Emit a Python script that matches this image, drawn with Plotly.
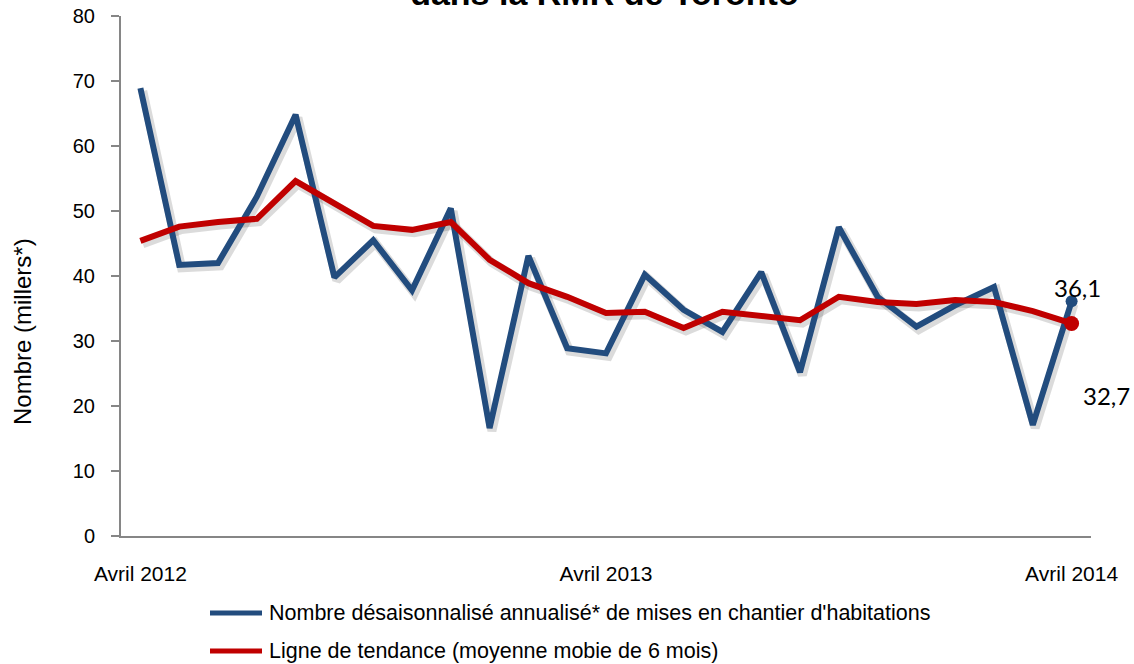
import plotly.graph_objects as go

# ---- data ----
months = ["avr. 2012", "mai 2012", "juin 2012", "juil. 2012", "août 2012", "sept. 2012",
          "oct. 2012", "nov. 2012", "déc. 2012", "janv. 2013", "févr. 2013", "mars 2013",
          "avr. 2013", "mai 2013", "juin 2013", "juil. 2013", "août 2013", "sept. 2013",
          "oct. 2013", "nov. 2013", "déc. 2013", "janv. 2014", "févr. 2014", "mars 2014",
          "avr. 2014"]
starts = [68.9, 41.7, 42.0, 52.2, 64.8, 39.8, 45.5, 37.8, 50.4, 16.6, 43.1, 28.9,
          28.1, 40.2, 34.8, 31.4, 40.6, 25.2, 47.5, 36.8, 32.2, 35.5, 38.3, 17.1, 36.1]
trend = [45.4, 47.6, 48.3, 48.8, 54.6, 51.2, 47.7, 47.1, 48.3, 42.5, 38.9, 36.8,
         34.3, 34.5, 32.0, 34.5, 33.8, 33.2, 36.8, 36.0, 35.7, 36.3, 36.0, 34.6, 32.7]
tick_vals = ["avr. 2012", "avr. 2013", "avr. 2014"]
tick_text = ["Avril 2012", "Avril 2013", "Avril 2014"]
name_starts = "Nombre désaisonnalisé annualisé* de mises en chantier d'habitations"
name_trend = "Ligne de tendance (moyenne mobie de 6 mois)"
title_text = "dans la RMR de Toronto"
y_title = "Nombre (millers*)"

BLUE = "#224C7E"
RED = "#C00000"
W, H = 1134, 664
ML, MR, MT, MB = 121, 43, 16, 128
PW, PH = W - ML - MR, H - MT - MB

def px_x(px):
    return (px - ML) / PW

def px_y(py):
    return (H - MB - py) / PH

idx = list(range(len(months)))

fig = go.Figure()

# soft shadows (offset derived from the data)
for vals in (starts, trend):
    fig.add_trace(go.Scatter(
        x=[i + 0.06 for i in idx], y=[v - 0.45 for v in vals], mode="lines",
        line=dict(color="rgba(0,0,0,0.14)", width=9), hoverinfo="skip",
        showlegend=False))

fig.add_trace(go.Scatter(
    x=idx, y=starts, mode="lines", name=name_starts, showlegend=False,
    line=dict(color=BLUE, width=6)))
fig.add_trace(go.Scatter(
    x=idx, y=trend, mode="lines", name=name_trend, showlegend=False,
    line=dict(color=RED, width=6)))

# end markers
fig.add_trace(go.Scatter(x=[idx[-1]], y=[starts[-1]], mode="markers",
                         marker=dict(color=BLUE, size=12), showlegend=False))
fig.add_trace(go.Scatter(x=[idx[-1]], y=[trend[-1]], mode="markers",
                         marker=dict(color=RED, size=15), showlegend=False))

lab_font = dict(family="Lato, Open Sans, sans-serif", size=24, color="#000000")
fig.add_annotation(x=idx[-1], y=starts[-1], text=f"{starts[-1]:.1f}".replace(".", ","),
                   showarrow=False, xshift=6, yshift=14, font=lab_font)
fig.add_annotation(x=idx[-1], y=trend[-1], text=f"{trend[-1]:.1f}".replace(".", ","),
                   showarrow=False, xshift=35, yshift=-72, font=lab_font)

# manual legend (long line swatches like the reference)
leg_font = dict(family="Liberation Sans, Arial, sans-serif", size=21.5, color="#000000")
for name, col, py in ((name_starts, BLUE, 613), (name_trend, RED, 651)):
    fig.add_shape(type="line", xref="paper", yref="paper",
                  x0=px_x(210), x1=px_x(262), y0=px_y(py), y1=px_y(py),
                  line=dict(color=col, width=5))
    fig.add_annotation(xref="paper", yref="paper", x=px_x(267), y=px_y(py),
                       xanchor="left", yanchor="middle", text=name, showarrow=False,
                       font=leg_font)

# y axis title placed like the reference
fig.add_annotation(xref="paper", yref="paper", x=px_x(22), y=px_y(332),
                   xanchor="center", yanchor="middle", text=y_title, textangle=-90,
                   showarrow=False,
                   font=dict(family="Liberation Sans, Arial, sans-serif", size=24,
                             color="#000000"))

fig.update_layout(
    width=W, height=H,
    paper_bgcolor="white", plot_bgcolor="white",
    margin=dict(l=ML, r=MR, t=MT, b=MB, autoexpand=False),
    font=dict(family="Liberation Sans, Arial, sans-serif", color="#000000"),
    title=dict(text=title_text, x=0.533, xanchor="center", y=0.992, yanchor="bottom",
               font=dict(size=34, family="Liberation Sans, Arial, sans-serif", weight="bold")),
    showlegend=False,
    xaxis=dict(range=[-0.5, 24.5], tickvals=[months.index(t) for t in tick_vals],
               ticktext=tick_text, showgrid=False, zeroline=False,
               showline=True, linecolor="#868686", linewidth=2, ticks="",
               ticklabelstandoff=18, tickfont=dict(size=21)),
    yaxis=dict(range=[0, 80], dtick=10, showgrid=False, zeroline=False,
               showline=True, linecolor="#868686", linewidth=2,
               ticks="outside", ticklen=8, tickcolor="#868686", tickwidth=2,
               ticklabelstandoff=12, tickfont=dict(size=20)),
)

fig.write_html("out.html", config={"displayModeBar": False},
               post_script="document.body.style.margin='0';document.body.style.overflow='hidden';")
